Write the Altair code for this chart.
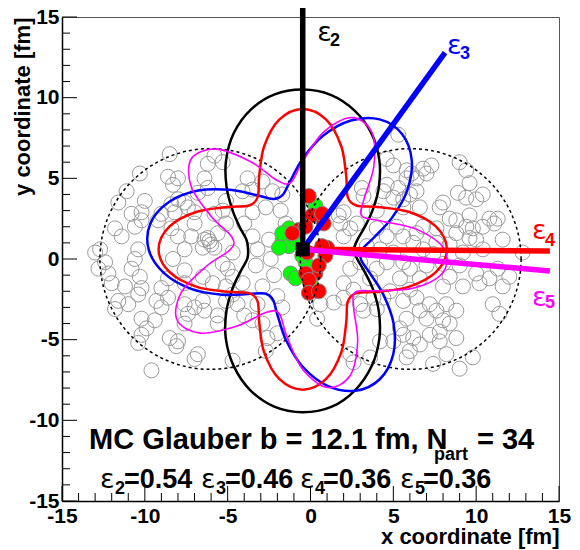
import altair as alt
import numpy as np
import pandas as pd

W, H = 497, 484
MAJOR_TICKS = [-15, -10, -5, 0, 5, 10, 15]
MINOR_TICKS = [v for v in range(-15, 16) if v % 5 != 0]

# centre of the participant zone (black square)
CENTER_X, CENTER_Y = -0.47, 0.6

# radii of the eccentricity contours, read every 10 degrees around the centre
ANGLES = list(range(0, 360, 10))
R_EPS2 = [3.10, 3.35, 3.97, 4.88, 6.00, 7.20, 8.30, 9.15, 9.72, 9.90, 9.75, 9.20, 8.32, 7.20, 6.00, 4.90, 4.05, 3.45,
          3.30, 3.40, 3.99, 4.90, 6.02, 7.22, 8.34, 9.28, 9.90, 10.10, 9.92, 9.28, 8.34, 7.20, 6.00, 4.88, 3.95, 3.33]
R_EPS3 = [3.60, 4.40, 5.74, 7.28, 8.59, 9.33, 9.30, 8.50, 7.16, 5.62, 4.31, 3.57,
          3.60, 4.40, 5.74, 7.28, 8.59, 9.33, 9.30, 8.50, 7.16, 5.62, 4.31, 3.57,
          3.60, 4.40, 5.74, 7.28, 8.59, 9.33, 9.30, 8.50, 7.16, 5.62, 4.31, 3.57]
R_EPS4 = [8.70, 8.16, 6.80, 5.25, 4.23, 4.23, 5.25, 6.80, 8.16,
          8.70, 8.16, 6.80, 5.25, 4.23, 4.23, 5.25, 6.80, 8.16,
          8.70, 8.16, 6.80, 5.25, 4.23, 4.23, 5.25, 6.80, 8.16,
          8.70, 8.16, 6.80, 5.25, 4.23, 4.23, 5.25, 6.80, 8.16]
R_EPS5 = [8.55, 7.03, 5.10, 4.13, 4.82, 6.67, 8.36, 8.69, 7.41, 5.45, 4.20, 4.56,
          6.27, 8.11, 8.76, 7.77, 5.83, 4.34, 4.35, 5.87, 7.80, 8.76, 8.08, 6.23,
          4.54, 4.21, 5.49, 7.45, 8.70, 8.34, 6.63, 4.79, 4.14, 5.13, 7.07, 8.56]
CURVE_COLORS = ["#000000", "#0000ff", "#ff0000", "#ff00ff"]

# eccentricity direction vectors (end points)
VEC_END_X = [-0.47, 8.12, 14.45, 14.45]
VEC_END_Y = [15.6, 12.79, 0.5, -0.74]

# nuclei outlines
NUCLEUS_X = [-6.05, 6.05]
NUCLEUS_Y = [0.0, 0.0]
NUCLEUS_R = 6.75

# spectator nucleons
LEFT_SPECTATORS = [
    (-8.5, 6.5), (-10.3, 5.3), (-11.1, 4.2), (-11.6, 3.5), (-10.0, 3.6), (-8.6, 5.1), (-8.0, 5.0), (-8.3, 4.6),
    (-5.8, 6.4), (-5.3, 6.0), (-6.2, 5.9), (-6.4, 5.0), (-6.2, 4.4), (-6.8, 4.1), (-7.6, 3.5), (-8.0, 3.7),
    (-7.4, 3.2), (-3.8, 5.0), (-4.1, 4.2), (-3.5, 4.3), (-2.9, 4.8), (-2.3, 4.2), (-1.7, 4.0), (-1.8, 3.0),
    (-2.7, 3.2), (-3.5, 2.9), (-5.1, 3.6), (-5.3, 3.0), (-10.8, 2.8), (-10.2, 2.9), (-9.0, 2.8), (-8.4, 3.4),
    (-8.2, 2.9), (-7.0, 2.9), (-5.8, 2.8),
    (-11.8, 1.9), (-12.7, 0.6), (-13.0, 0.4), (-12.4, -0.2), (-12.8, -0.6), (-12.2, -0.9), (-12.0, -1.5),
    (-11.2, -1.7), (-11.4, 1.4), (-10.6, 2.0), (-10.2, 2.4), (-10.4, 0.6), (-10.6, 0.0), (-10.8, -0.6),
    (-10.3, -1.1), (-10.2, -1.8), (-9.2, 2.4), (-8.4, 1.9), (-8.0, 1.4), (-7.6, 0.6), (-8.3, 0.0), (-7.6, -0.7),
    (-8.6, -1.2), (-9.0, -1.8), (-7.6, -1.5), (-7.0, 2.2), (-7.2, 1.4), (-6.4, 1.2), (-6.1, 1.1), (-6.5, 0.7),
    (-5.8, 0.7), (-5.6, 1.6), (-5.1, 2.2), (-4.7, 0.4), (-5.3, -0.3), (-5.0, -0.6), (-4.7, -1.1), (-4.0, 2.2),
    (-3.5, 1.4), (-3.2, 0.6), (-3.3, -0.4), (-4.1, -1.5), (-5.1, -1.7), (-5.9, -1.5), (-6.5, -1.1), (-2.9, -1.7),
    (-1.5, 2.2), (-6.2, 1.3), (-6.0, 0.9), (-2.4, 0.0), (-2.2, -1.0), (-2.5, 1.2), (-2.0, -2.3),
    (-11.6, -2.6), (-11.0, -2.8), (-11.8, -3.1), (-10.4, -2.2), (-9.3, -2.6), (-9.0, -3.0), (-8.6, -2.4),
    (-10.2, -3.7), (-9.4, -3.8), (-9.9, -4.3), (-10.2, -4.7), (-10.4, -5.2), (-8.5, -4.9), (-8.0, -5.1),
    (-8.1, -5.4), (-7.6, -2.8), (-7.4, -3.4), (-7.6, -4.0), (-7.0, -3.0), (-6.5, -2.6), (-6.4, -3.2),
    (-5.6, -3.5), (-5.6, -4.0), (-6.8, -5.9), (-7.0, -6.2), (-9.6, -6.9), (-4.7, -6.3), (-4.4, -2.8),
    (-4.0, -3.5), (-3.5, -3.8), (-3.2, -2.8), (-2.9, -4.0), (-2.6, -4.9), (-2.0, -4.6), (-1.7, -3.0),
    (-2.7, -5.7), (-5.1, -2.6), (-4.7, -2.2),
]
RIGHT_SPECTATORS = [
    (5.3, 7.7), (4.6, 6.2), (5.0, 5.8), (5.8, 5.5), (6.1, 5.3), (6.4, 5.0), (5.8, 5.0), (6.8, 5.6), (7.3, 5.8),
    (7.0, 5.3), (9.0, 6.0), (9.4, 5.5), (9.6, 4.7), (8.9, 4.1), (9.4, 3.8), (10.0, 3.7), (10.4, 4.0), (4.6, 4.6),
    (4.4, 4.2), (5.3, 4.4), (5.0, 3.8), (5.6, 3.7), (6.0, 4.0), (6.4, 4.2), (6.6, 3.2), (5.6, 3.2), (7.8, 3.2),
    (8.0, 3.5), (3.1, 4.4), (3.2, 3.9), (2.0, 2.9), (1.7, 2.7), (4.0, 3.0), (8.4, 2.5), (9.6, 2.7), (10.8, 2.5),
    (11.3, 2.5),
    (1.8, 2.2), (2.4, 1.9), (2.0, 1.4), (2.8, 2.2), (4.0, 1.9), (4.6, 1.4), (5.2, 2.0), (5.6, 1.4), (6.4, 1.6),
    (6.2, 1.0), (6.8, 2.0), (7.6, 1.9), (8.8, 2.4), (8.8, 1.6), (9.4, 2.0), (9.8, 1.9), (9.6, 1.3), (10.0, 1.2),
    (10.4, 2.0), (11.1, 2.2), (11.6, 1.2), (10.4, 0.6), (9.2, 0.4), (8.4, 0.9), (7.6, 1.0), (12.8, 0.4),
    (5.0, 0.4), (4.6, -0.2), (5.6, -0.2), (6.0, -0.6), (5.4, -1.2), (6.6, -1.2), (4.0, -0.6), (3.0, -0.2),
    (2.4, -0.6), (2.0, -1.5), (2.6, -1.9), (9.0, -0.4), (10.0, -0.9), (8.4, -1.1), (8.0, -1.7), (9.2, -1.7),
    (10.2, -1.5), (11.3, -0.6), (10.8, -1.2), (12.0, -1.1), (11.6, -1.7), (6.0, -1.9), (4.8, -2.0),
    (3.4, 0.8), (3.6, -1.2), (7.0, -0.4), (7.4, 0.3), (6.8, 0.6), (3.8, -2.4), (4.2, 0.6), (8.0, -0.3),
    (0.4, -3.7), (0.6, -2.8), (1.4, -2.7), (2.0, -2.4), (3.0, -2.8), (3.2, -3.2), (4.0, -3.1), (4.4, -2.4),
    (5.6, -2.6), (6.4, -2.4), (6.6, -3.2), (7.2, -2.8), (7.6, -3.2), (8.2, -2.8), (8.8, -3.2), (8.0, -3.8),
    (7.0, -3.7), (5.8, -3.7), (5.4, -4.3), (5.6, -4.7), (6.2, -4.9), (5.0, -5.1), (4.2, -5.1), (6.0, -5.7),
    (5.8, -6.1), (6.6, -5.3), (7.2, -4.7), (7.8, -4.5), (8.4, -4.0), (8.8, -4.9), (7.8, -5.1), (8.2, -5.9),
    (7.4, -6.5), (9.0, -6.8), (9.8, -6.1), (11.0, -2.8), (11.4, -3.4), (2.4, -5.9), (3.6, -6.1), (2.6, -6.4),
]

# participants
GREEN_PARTICIPANTS = [
    (0.3, 3.3), (-1.3, 1.9), (-1.7, 1.1), (-1.3, 0.8), (-1.9, 0.7), (-0.9, 1.3), (-0.3, -0.2), (-1.2, -0.9),
    (-0.9, -1.2), (0.1, -1.7), (-0.5, 0.2), (-1.7, 1.6),
]
RED_PARTICIPANTS = [
    (-0.1, 3.9), (0.5, 2.7), (0.1, 2.7), (-0.7, 1.8), (-0.3, 2.0), (1.0, 0.7), (0.9, 0.2), (0.3, -0.9),
    (-0.3, -0.9), (-0.1, -1.3), (0.5, -0.4), (-0.1, -2.1), (0.5, -2.0), (0.7, 0.8), (-1.1, 1.6), (0.8, 2.2),
    (0.7, 2.8), (-0.2, 0.4),
]

# labels
ORDERS = ["2", "3", "4", "5"]
LABEL_EPS_X = [0.4, 8.24, 13.37, 13.37]
LABEL_EPS_Y = [13.5, 12.7, 1.24, -2.91]
LABEL_SUB_X = [1.18, 9.02, 14.15, 14.15]
LABEL_SUB_Y = [13.2, 12.4, 0.8, -3.04]
ECC_VALUES = ["0.54", "0.46", "0.36", "0.36"]
SUM_EPS_X = [-12.7, -6.61, -0.63, 5.40]
SUM_SUB_X = [-11.8, -5.70, 0.27, 6.31]
SUM_VAL_X = [-11.26, -5.16, 0.75, 6.79]
SUM_Y, SUM_SUB_Y = -14.2, -14.57
HEAD_TEXT = ["MC Glauber b = 12.1 fm, N", "= 34"]
HEAD_X = [-13.37, 10.05]
HEAD_Y = -11.78
HEAD_SUB = "part"
HEAD_SUB_X, HEAD_SUB_Y = 7.45, -12.46

FONT = "Liberation Sans"
xs = alt.Scale(domain=[-15, 15], nice=False, zero=False)
ys = alt.Scale(domain=[-15, 15], nice=False, zero=False)
common_axis = dict(values=MAJOR_TICKS, labelExpr="'' + datum.value", labelFont=FONT, labelFontSize=21,
                   labelFontWeight="bold", labelColor="black", labelFlush=False, labelOverlap=False,
                   ticks=False, grid=False, domain=True, domainColor="black", domainWidth=1.5,
                   titleFont=FONT, titleFontSize=22, titleFontWeight="bold", titleColor="black",
                   titleAnchor="end", titleBaseline="alphabetic")
xaxis = alt.Axis(title="x coordinate [fm]", labelPadding=4, titleY=42, **common_axis)
yaxis = alt.Axis(title="y coordinate [fm]", labelPadding=3, titleX=-33, **common_axis)


def X(f):
    return alt.X(f, type="quantitative", scale=xs, axis=xaxis)


def Y(f):
    return alt.Y(f, type="quantitative", scale=ys, axis=yaxis)


def pts(lst):
    return pd.DataFrame({"x": [p[0] for p in lst], "y": [p[1] for p in lst]})


spec_df = pts(LEFT_SPECTATORS + RIGHT_SPECTATORS)
spect = alt.Chart(spec_df).mark_point(shape="circle", filled=False, size=225, color="#9a9a9a",
                                      strokeWidth=1, opacity=1).encode(x=X("x"), y=Y("y"))
green = alt.Chart(pts(GREEN_PARTICIPANTS)).mark_point(shape="circle", filled=True, size=225, fill="#00ff00",
                                                      stroke="#8a8a8a", strokeWidth=1, opacity=1
                                                      ).encode(x=X("x"), y=Y("y"))
red = alt.Chart(pts(RED_PARTICIPANTS)).mark_point(shape="circle", filled=True, size=225, fill="#ff0000",
                                                  stroke="#8a8a8a", strokeWidth=1, opacity=1
                                                  ).encode(x=X("x"), y=Y("y"))
px_per_unit = (W / 30 + H / 30) / 2
nuc = alt.Chart(pd.DataFrame({"x": NUCLEUS_X, "y": NUCLEUS_Y})).mark_point(
    shape="circle", filled=False, size=(2 * NUCLEUS_R * px_per_unit) ** 2, color="black",
    strokeWidth=1.5, strokeDash=[3, 3], opacity=1).encode(x=X("x"), y=Y("y"))

curves = []
for radii, col, sw in zip([R_EPS2, R_EPS3, R_EPS4, R_EPS5], CURVE_COLORS, [2.5, 2.5, 2.5, 1.6]):
    a = np.radians(ANGLES)
    r = np.array(radii)
    df = pd.DataFrame({"x": CENTER_X + r * np.cos(a), "y": CENTER_Y + r * np.sin(a), "i": range(len(a))})
    curves.append(alt.Chart(df).mark_line(interpolate="cardinal-closed", color=col, strokeWidth=sw)
                  .encode(x=X("x"), y=Y("y"), order="i:Q"))

vec_df = pd.DataFrame({"x0": [CENTER_X] * 4, "y0": [CENTER_Y] * 4, "x1": VEC_END_X, "y1": VEC_END_Y,
                       "c": CURVE_COLORS})
vecs = alt.Chart(vec_df).mark_rule(strokeWidth=5.5).encode(
    x=X("x0"), y=Y("y0"), x2="x1", y2="y1", color=alt.Color("c:N", scale=None))
square = alt.Chart(pd.DataFrame({"x": [CENTER_X], "y": [CENTER_Y]})).mark_square(
    size=196, color="black", filled=True, opacity=1).encode(x=X("x"), y=Y("y"))

eps_df = pd.DataFrame({"x": LABEL_EPS_X + SUM_EPS_X, "y": LABEL_EPS_Y + [SUM_Y] * 4, "t": ["ε"] * 8,
                       "c": CURVE_COLORS + ["#000000"] * 4})
eps = alt.Chart(eps_df).mark_text(font="DejaVu Sans", fontSize=27, align="left", baseline="alphabetic").encode(
    x=X("x"), y=Y("y"), text="t:N", color=alt.Color("c:N", scale=None))
sub_df = pd.DataFrame({"x": LABEL_SUB_X + SUM_SUB_X, "y": LABEL_SUB_Y + [SUM_SUB_Y] * 4, "t": ORDERS * 2,
                       "c": CURVE_COLORS + ["#000000"] * 4})
subs = alt.Chart(sub_df).mark_text(font=FONT, fontSize=18, fontWeight="bold", align="left",
                                   baseline="alphabetic").encode(
    x=X("x"), y=Y("y"), text="t:N", color=alt.Color("c:N", scale=None))
val_df = pd.DataFrame({"x": SUM_VAL_X, "y": [SUM_Y] * 4, "t": ["=" + v for v in ECC_VALUES]})
vals = alt.Chart(val_df).mark_text(font=FONT, fontSize=27, fontWeight="bold", align="left",
                                   baseline="alphabetic", color="black").encode(x=X("x"), y=Y("y"), text="t:N")
head_df = pd.DataFrame({"x": HEAD_X, "y": [HEAD_Y] * 2, "t": HEAD_TEXT})
head = alt.Chart(head_df).mark_text(font=FONT, fontSize=29, fontWeight="bold", align="left",
                                    baseline="alphabetic", color="black").encode(x=X("x"), y=Y("y"), text="t:N")
headsub = alt.Chart(pd.DataFrame({"x": [HEAD_SUB_X], "y": [HEAD_SUB_Y], "t": [HEAD_SUB]})).mark_text(
    font=FONT, fontSize=18, fontWeight="bold", align="left", baseline="alphabetic", color="black").encode(
    x=X("x"), y=Y("y"), text="t:N")

ymaj = alt.Chart(pd.DataFrame({"v": MAJOR_TICKS})).mark_rule(color="black", strokeWidth=1).encode(
    y=Y("v"), x=alt.value(0), x2=alt.value(15))
ymin = alt.Chart(pd.DataFrame({"v": MINOR_TICKS})).mark_rule(color="black", strokeWidth=1).encode(
    y=Y("v"), x=alt.value(0), x2=alt.value(8))
xmaj = alt.Chart(pd.DataFrame({"v": MAJOR_TICKS})).mark_rule(color="black", strokeWidth=1).encode(
    x=X("v"), y=alt.value(H), y2=alt.value(H - 15))
xmin = alt.Chart(pd.DataFrame({"v": MINOR_TICKS})).mark_rule(color="black", strokeWidth=1).encode(
    x=X("v"), y=alt.value(H), y2=alt.value(H - 8))

chart = alt.layer(
    spect, green, red, nuc, *curves, vecs, square, eps, subs, vals, head, headsub, ymaj, ymin, xmaj, xmin
).properties(
    width=W, height=H,
    padding={"left": 54, "top": 9, "right": 13, "bottom": 49},
    autosize=alt.AutoSizeParams(type="none"),
    background="white",
).configure_view(stroke="#555555", strokeWidth=1)

chart.save("out.html", embed_options={"renderer": "svg", "actions": False})
